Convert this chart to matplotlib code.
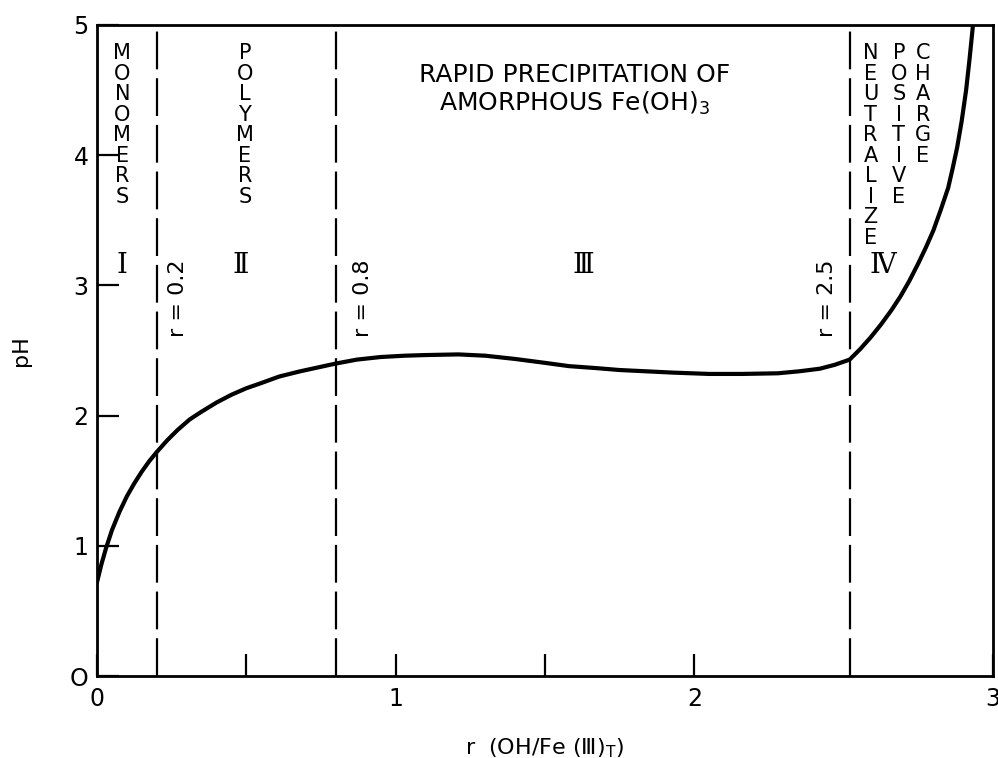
import matplotlib
matplotlib.use("Agg")
import matplotlib.pyplot as plt

# Titration curve data (r = OH/Fe(III)_T, pH)
r_values = [0.0, 0.015, 0.03, 0.05, 0.075, 0.10, 0.125, 0.15, 0.175, 0.20, 0.235,
            0.27, 0.31, 0.35, 0.40, 0.45, 0.50, 0.55, 0.61, 0.68, 0.74, 0.80, 0.87,
            0.95, 1.03, 1.10, 1.21, 1.30, 1.40, 1.50, 1.58, 1.67, 1.75, 1.84, 1.93,
            2.05, 2.16, 2.28, 2.35, 2.42, 2.47, 2.52, 2.555, 2.59, 2.625, 2.66, 2.69,
            2.72, 2.75, 2.775, 2.80, 2.825, 2.85, 2.865, 2.88, 2.895, 2.91, 2.922, 2.933]
ph_values = [0.72, 0.86, 0.98, 1.12, 1.26, 1.38, 1.48, 1.57, 1.65, 1.72, 1.81,
             1.89, 1.97, 2.03, 2.10, 2.16, 2.21, 2.25, 2.30, 2.34, 2.37, 2.40, 2.43,
             2.45, 2.46, 2.465, 2.47, 2.46, 2.435, 2.405, 2.38, 2.365, 2.35, 2.34, 2.33,
             2.32, 2.32, 2.325, 2.34, 2.36, 2.39, 2.43, 2.51, 2.60, 2.70, 2.81, 2.915,
             3.035, 3.17, 3.29, 3.42, 3.58, 3.75, 3.90, 4.06, 4.26, 4.50, 4.75, 5.00]

boundaries = [0.2, 0.8, 2.52]
boundary_labels = ["r = 0.2", "r = 0.8", "r = 2.5"]
region_numerals = ["Ⅰ", "Ⅱ", "Ⅲ", "Ⅳ"]
region_numeral_x = [0.085, 0.48, 1.63, 2.63]
vertical_words = ["MONOMERS", "POLYMERS", "NEUTRALIZE", "POSITIVE", "CHARGE"]
vertical_word_x = [0.085, 0.495, 2.59, 2.685, 2.765]

fig = plt.figure(figsize=(9.98, 7.58), dpi=100)
ax = fig.add_axes([97/998, 1-676/758, (993-97)/998, (676-25)/758])

ax.plot(r_values, ph_values, color="black", lw=3.0, solid_capstyle="round",
        solid_joinstyle="round")
for b in boundaries:
    ax.axvline(b, color="black", lw=1.6, dashes=(17, 4))

ax.set_xlim(0, 3)
ax.set_ylim(0, 5)
ax.set_xticks([0, 0.5, 1, 1.5, 2, 3])
ax.set_xticklabels(["0", "", "1", "", "2", "3"])
ax.set_yticks([0, 1, 2, 3, 4, 5])
ax.set_yticklabels(["O", "1", "2", "3", "4", "5"])
ax.tick_params(axis="both", direction="in", length=16, width=1.6, labelsize=17,
               top=False, right=False)
ax.tick_params(axis="x", pad=8)
ax.tick_params(axis="y", pad=6)
for sp in ax.spines.values():
    sp.set_linewidth(2.0)

ax.set_xlabel("r  (OH/Fe (Ⅲ)$_{\\mathregular{T}}$)", fontsize=16, labelpad=18)
ax.set_ylabel("pH", fontsize=16, labelpad=28)

txt_kw = dict(fontsize=15, ha="center", va="top", linespacing=1.03, color="black")
for w, x in zip(vertical_words, vertical_word_x):
    ax.text(x, 4.86, "\n".join(w), **txt_kw)

ax.text(1.6, 4.5, "RAPID PRECIPITATION OF\nAMORPHOUS Fe(OH)$_3$", fontsize=18,
        ha="center", va="center", linespacing=1.12)

for x, s in zip(region_numeral_x, region_numerals):
    ax.text(x, 3.15, s, fontsize=20, ha="center", va="center", family="DejaVu Serif")

label_x = [0.27, 0.89, 2.445]
for x, s in zip(label_x, boundary_labels):
    ax.text(x, 2.9, s, fontsize=16, rotation=90, ha="center", va="center")

fig.savefig("out.png", dpi=100)
